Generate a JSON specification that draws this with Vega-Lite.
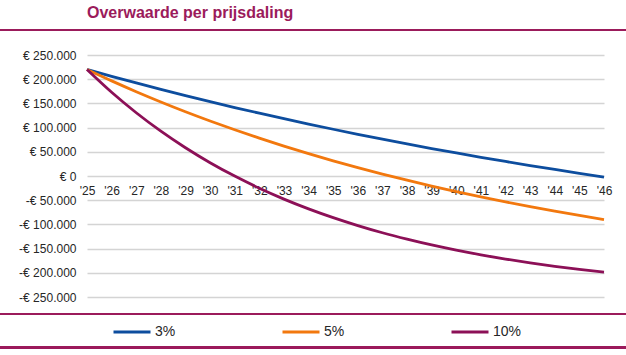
{
  "$schema": "https://vega.github.io/schema/vega-lite/v6.json",
  "width": 517,
  "height": 242,
  "autosize": {"type": "none"},
  "padding": {"left": 87, "top": 55, "right": 22, "bottom": 58},
  "background": "white",
  "config": {
    "view": {"stroke": null},
    "font": "Liberation Sans",
    "axis": {"labelOverlap": false, "labelBound": false, "labelFlush": false}
  },
  "title": {
    "text": "Overwaarde per prijsdaling",
    "anchor": "start",
    "frame": "group",
    "font": "Liberation Sans",
    "fontSize": 16,
    "fontWeight": "bold",
    "color": "#9b1b5b",
    "offset": -5,
    "baseline": "alphabetic"
  },
  "data": {
    "values": [
      {"jaar": 2025, "daling": "3%", "overwaarde": 220000},
      {"jaar": 2026, "daling": "3%", "overwaarde": 205900},
      {"jaar": 2027, "daling": "3%", "overwaarde": 192200},
      {"jaar": 2028, "daling": "3%", "overwaarde": 179000},
      {"jaar": 2029, "daling": "3%", "overwaarde": 166100},
      {"jaar": 2030, "daling": "3%", "overwaarde": 153600},
      {"jaar": 2031, "daling": "3%", "overwaarde": 141500},
      {"jaar": 2032, "daling": "3%", "overwaarde": 129800},
      {"jaar": 2033, "daling": "3%", "overwaarde": 118400},
      {"jaar": 2034, "daling": "3%", "overwaarde": 107300},
      {"jaar": 2035, "daling": "3%", "overwaarde": 96600},
      {"jaar": 2036, "daling": "3%", "overwaarde": 86200},
      {"jaar": 2037, "daling": "3%", "overwaarde": 76100},
      {"jaar": 2038, "daling": "3%", "overwaarde": 66300},
      {"jaar": 2039, "daling": "3%", "overwaarde": 56800},
      {"jaar": 2040, "daling": "3%", "overwaarde": 47600},
      {"jaar": 2041, "daling": "3%", "overwaarde": 38700},
      {"jaar": 2042, "daling": "3%", "overwaarde": 30000},
      {"jaar": 2043, "daling": "3%", "overwaarde": 21600},
      {"jaar": 2044, "daling": "3%", "overwaarde": 13500},
      {"jaar": 2045, "daling": "3%", "overwaarde": 5600},
      {"jaar": 2046, "daling": "3%", "overwaarde": -2100},
      {"jaar": 2025, "daling": "5%", "overwaarde": 220000},
      {"jaar": 2026, "daling": "5%", "overwaarde": 196500},
      {"jaar": 2027, "daling": "5%", "overwaarde": 174200},
      {"jaar": 2028, "daling": "5%", "overwaarde": 153000},
      {"jaar": 2029, "daling": "5%", "overwaarde": 132800},
      {"jaar": 2030, "daling": "5%", "overwaarde": 113700},
      {"jaar": 2031, "daling": "5%", "overwaarde": 95500},
      {"jaar": 2032, "daling": "5%", "overwaarde": 78200},
      {"jaar": 2033, "daling": "5%", "overwaarde": 61800},
      {"jaar": 2034, "daling": "5%", "overwaarde": 46200},
      {"jaar": 2035, "daling": "5%", "overwaarde": 31400},
      {"jaar": 2036, "daling": "5%", "overwaarde": 17300},
      {"jaar": 2037, "daling": "5%", "overwaarde": 4000},
      {"jaar": 2038, "daling": "5%", "overwaarde": -8700},
      {"jaar": 2039, "daling": "5%", "overwaarde": -20800},
      {"jaar": 2040, "daling": "5%", "overwaarde": -32300},
      {"jaar": 2041, "daling": "5%", "overwaarde": -43100},
      {"jaar": 2042, "daling": "5%", "overwaarde": -53500},
      {"jaar": 2043, "daling": "5%", "overwaarde": -63300},
      {"jaar": 2044, "daling": "5%", "overwaarde": -72600},
      {"jaar": 2045, "daling": "5%", "overwaarde": -81500},
      {"jaar": 2046, "daling": "5%", "overwaarde": -89900},
      {"jaar": 2025, "daling": "10%", "overwaarde": 220000},
      {"jaar": 2026, "daling": "10%", "overwaarde": 173000},
      {"jaar": 2027, "daling": "10%", "overwaarde": 130700},
      {"jaar": 2028, "daling": "10%", "overwaarde": 92600},
      {"jaar": 2029, "daling": "10%", "overwaarde": 58400},
      {"jaar": 2030, "daling": "10%", "overwaarde": 27500},
      {"jaar": 2031, "daling": "10%", "overwaarde": -200},
      {"jaar": 2032, "daling": "10%", "overwaarde": -25200},
      {"jaar": 2033, "daling": "10%", "overwaarde": -47700},
      {"jaar": 2034, "daling": "10%", "overwaarde": -67900},
      {"jaar": 2035, "daling": "10%", "overwaarde": -86100},
      {"jaar": 2036, "daling": "10%", "overwaarde": -102500},
      {"jaar": 2037, "daling": "10%", "overwaarde": -117300},
      {"jaar": 2038, "daling": "10%", "overwaarde": -130500},
      {"jaar": 2039, "daling": "10%", "overwaarde": -142500},
      {"jaar": 2040, "daling": "10%", "overwaarde": -153200},
      {"jaar": 2041, "daling": "10%", "overwaarde": -162900},
      {"jaar": 2042, "daling": "10%", "overwaarde": -171600},
      {"jaar": 2043, "daling": "10%", "overwaarde": -179500},
      {"jaar": 2044, "daling": "10%", "overwaarde": -186500},
      {"jaar": 2045, "daling": "10%", "overwaarde": -192900},
      {"jaar": 2046, "daling": "10%", "overwaarde": -198600}
    ]
  },
  "layer": [
    {
      "mark": {"type": "line", "interpolate": "monotone", "strokeWidth": 2.8},
      "encoding": {
        "x": {
          "field": "jaar",
          "type": "quantitative",
          "scale": {"domain": [2025, 2046], "nice": false, "zero": false},
          "axis": {
            "title": null,
            "values": [2025,2026,2027,2028,2029,2030,2031,2032,2033,2034,2035,2036,2037,2038,2039,2040,2041,2042,2043,2044,2045,2046],
            "tickCount": 40,
            "labelExpr": "\"'\" + substring(toString(datum.value), 2, 4)",
            "offset": -121,
            "domain": false,
            "ticks": false,
            "tickSize": 0,
            "grid": false,
            "labelPadding": 9,
            "labelFlush": false,
            "labelOverlap": false,
            "labelBound": false,
            "labelFont": "Liberation Sans",
            "labelFontSize": 12,
            "labelColor": "#262626"
          }
        },
        "y": {
          "field": "overwaarde",
          "type": "quantitative",
          "scale": {"domain": [-250000, 250000], "nice": false, "zero": false},
          "axis": {
            "title": null,
            "values": [-250000,-200000,-150000,-100000,-50000,0,50000,100000,150000,200000,250000],
            "tickCount": 20,
            "labelExpr": "(datum.value < 0 ? '-€ ' : '€ ') + replace(format(abs(datum.value), ','), ',', '.')",
            "domain": false,
            "ticks": false,
            "tickSize": 0,
            "grid": true,
            "gridColor": "#d4d4d4",
            "gridWidth": 1.5,
            "labelPadding": 11,
            "labelOverlap": false,
            "labelBound": false,
            "labelFont": "Liberation Sans",
            "labelFontSize": 12,
            "labelColor": "#262626"
          }
        },
        "color": {
          "field": "daling",
          "type": "nominal",
          "scale": {"domain": ["3%", "5%", "10%"], "range": ["#0d4d9e", "#f2780e", "#8c1057"]},
          "legend": {
            "title": null,
            "orient": "none",
            "direction": "horizontal",
            "legendX": 25,
            "legendY": 257,
            "padding": 0,
            "symbolType": "stroke",
            "symbolSize": 1369,
            "symbolStrokeWidth": 3,
            "labelOffset": 3,
            "columnPadding": 100,
            "labelFont": "Liberation Sans",
            "labelFontSize": 14,
            "labelColor": "#262626"
          }
        }
      }
    },
    {
      "mark": {"type": "rule", "color": "#9b1b5b", "strokeWidth": 2},
      "encoding": {
        "x": {"datum": 2021.4},
        "x2": {"datum": 2047},
        "y": {"datum": 301650}
      }
    },
    {
      "mark": {"type": "rule", "color": "#9b1b5b", "strokeWidth": 2},
      "encoding": {
        "x": {"datum": 2021.4},
        "x2": {"datum": 2047},
        "y": {"datum": -285120}
      }
    },
    {
      "mark": {"type": "rule", "color": "#9b1b5b", "strokeWidth": 2},
      "encoding": {
        "x": {"datum": 2021.4},
        "x2": {"datum": 2047},
        "y": {"datum": -353900}
      }
    }
  ]
}
